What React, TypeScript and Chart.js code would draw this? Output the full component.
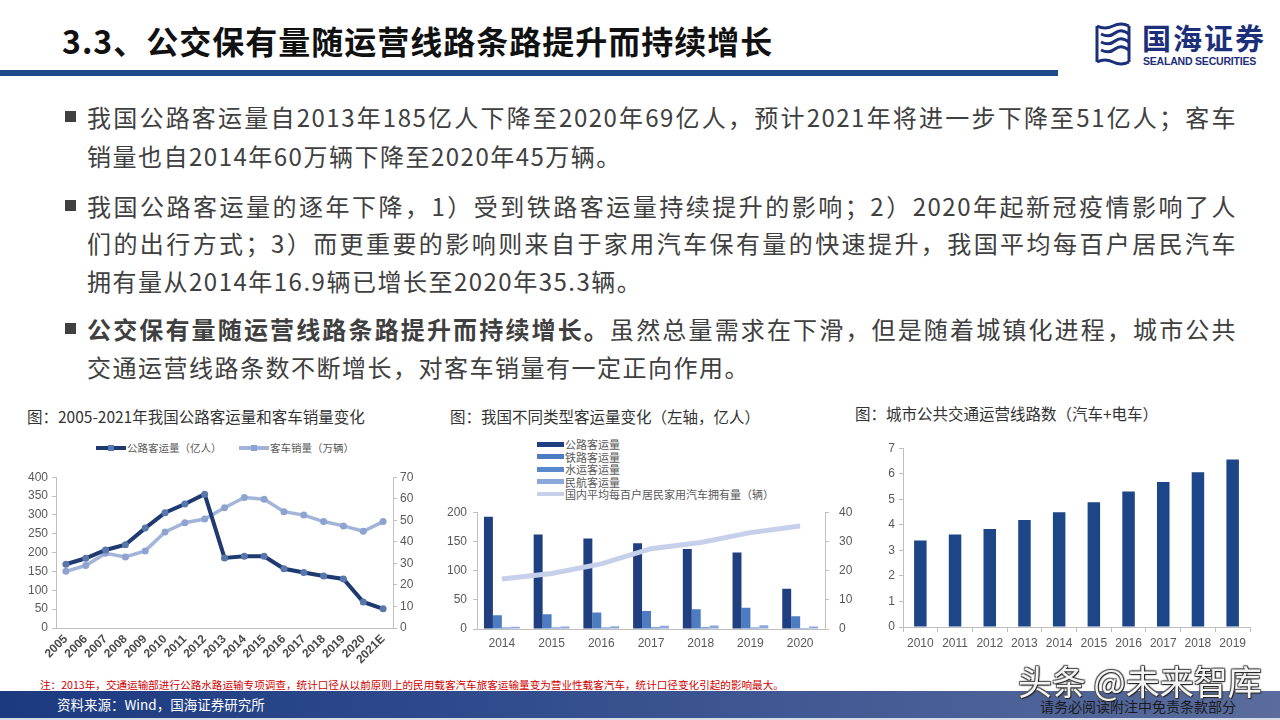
import React, { useEffect, useRef } from 'react';
import { Chart, registerables } from 'chart.js';

Chart.register(...registerables);

const years1 = ['2005', '2006', '2007', '2008', '2009', '2010', '2011', '2012', '2013', '2014', '2015', '2016', '2017', '2018', '2019', '2020', '2021E'];
const roadPassengers1 = [169, 185, 207, 221, 265, 306, 329, 355, 186, 190, 190, 157, 147, 138, 130, 69, 51];
const busSales1 = [26.3, 29, 34.7, 33, 35.8, 44.6, 48.9, 50.6, 55.8, 60.6, 59.8, 54, 52.4, 49.4, 47.4, 44.9, 49.4];
const leftTicks1 = { min: 0, max: 400, step: 50 };
const rightTicks1 = { min: 0, max: 70, step: 10 };

const years2 = ['2014', '2015', '2016', '2017', '2018', '2019', '2020'];
const road2 = [192, 162, 155, 147, 137, 131, 69];
const rail2 = [23.6, 25.3, 28.1, 30.8, 33.8, 36.6, 22.0];
const water2 = [2.6, 2.7, 2.7, 2.8, 2.8, 2.7, 1.5];
const air2 = [3.9, 4.4, 4.9, 5.5, 6.1, 6.6, 4.2];
const carsPerHundred2 = [17.1, 19.0, 22.3, 27.5, 29.6, 33.0, 35.3];
const leftTicks2 = { min: 0, max: 200, step: 50 };
const rightTicks2 = { min: 0, max: 40, step: 10 };

const years3 = ['2010', '2011', '2012', '2013', '2014', '2015', '2016', '2017', '2018', '2019'];
const busLines3 = [3.39, 3.62, 3.84, 4.19, 4.49, 4.88, 5.3, 5.68, 6.06, 6.56];
const ticks3 = { min: 0, max: 7, step: 1 };

const CJK = '"Noto Sans CJK SC", "Noto Sans", sans-serif';
const NUM = '"Liberation Sans", Arial, "Noto Sans CJK SC", sans-serif';
const AXIS = '#BFBFBF';
const TICK = '#595959';

function useChart(make: (ctx: CanvasRenderingContext2D) => Chart) {
  const ref = useRef<HTMLCanvasElement | null>(null);
  useEffect(() => {
    const ctx = ref.current!.getContext('2d')!;
    const c = make(ctx);
    return () => c.destroy();
  }, []);
  return ref;
}

function Chart1() {
  const ref = useChart((ctx) =>
    new Chart(ctx, {
      type: 'line',
      data: {
        labels: years1,
        datasets: [
          {
            label: '公路客运量（亿人）',
            data: roadPassengers1,
            yAxisID: 'y',
            borderColor: '#1F3A70',
            borderWidth: 4,
            pointRadius: 3.5,
            pointBackgroundColor: '#5877AB',
            pointBorderColor: '#5877AB',
            pointBorderWidth: 0,
            tension: 0,
          },
          {
            label: '客车销量（万辆）',
            data: busSales1,
            yAxisID: 'y1',
            borderColor: '#A3B4DB',
            borderWidth: 3.5,
            pointRadius: 3.5,
            pointBackgroundColor: '#8EA3D0',
            pointBorderColor: '#8EA3D0',
            pointBorderWidth: 0,
            tension: 0,
          },
        ],
      },
      options: {
        animation: false,
        responsive: false,
        layout: { padding: { top: 6, left: 0, right: 0, bottom: 0 } },
        plugins: { legend: { display: false }, tooltip: { enabled: false } },
        scales: {
          x: {
            offset: true,
            grid: { display: true, drawOnChartArea: false, drawTicks: false, color: AXIS },
            border: { color: AXIS },
            ticks: {
              minRotation: 45,
              maxRotation: 45,
              autoSkip: false,
              padding: 4,
              color: '#4A4A4A',
              font: { family: NUM, size: 12, weight: 'bold' },
            },
            afterFit: (s: any) => { s.height = 48; },
          },
          y: {
            position: 'left',
            min: leftTicks1.min,
            max: leftTicks1.max,
            ticks: { stepSize: leftTicks1.step, color: TICK, padding: 4, font: { family: NUM, size: 12 } },
            grid: { drawOnChartArea: false, tickLength: 4, color: AXIS },
            border: { color: AXIS },
            afterFit: (s: any) => { s.width = 46; },
          },
          y1: {
            position: 'right',
            min: rightTicks1.min,
            max: rightTicks1.max,
            ticks: { stepSize: rightTicks1.step, color: TICK, padding: 3, font: { family: NUM, size: 12 } },
            grid: { drawOnChartArea: false, tickLength: 4, color: AXIS },
            border: { color: AXIS },
            afterFit: (s: any) => { s.width = 37; },
          },
        },
      },
    } as any)
  );
  return <canvas ref={ref} width={420} height={210} style={{ position: 'absolute', left: 10, top: 466 }} />;
}

function Chart2() {
  const ref = useChart((ctx) =>
    new Chart(ctx, {
      type: 'bar',
      data: {
        labels: years2,
        datasets: [
          {
            type: 'line',
            label: '国内平均每百户居民家用汽车拥有量（辆）',
            data: carsPerHundred2,
            yAxisID: 'y1',
            borderColor: '#C6D0EB',
            borderWidth: 5,
            pointRadius: 0,
            tension: 0,
            order: 0,
          },
          { label: '公路客运量', data: road2, backgroundColor: '#1F3F80', yAxisID: 'y', order: 1 },
          { label: '铁路客运量', data: rail2, backgroundColor: '#4D7CC2', yAxisID: 'y', order: 1 },
          { label: '水运客运量', data: water2, backgroundColor: '#5A88CC', yAxisID: 'y', order: 1 },
          { label: '民航客运量', data: air2, backgroundColor: '#8DA8DA', yAxisID: 'y', order: 1 },
        ],
      },
      options: {
        animation: false,
        responsive: false,
        datasets: { bar: { barPercentage: 1, categoryPercentage: 0.72 } },
        layout: { padding: { top: 6, left: 0, right: 0, bottom: 0 } },
        plugins: { legend: { display: false }, tooltip: { enabled: false } },
        scales: {
          x: {
            grid: { display: true, drawOnChartArea: false, drawTicks: false, color: AXIS },
            border: { color: AXIS },
            ticks: { padding: 7, color: TICK, font: { family: NUM, size: 12 } },
            afterFit: (s: any) => { s.height = 26; },
          },
          y: {
            position: 'left',
            min: leftTicks2.min,
            max: leftTicks2.max,
            ticks: { stepSize: leftTicks2.step, color: TICK, padding: 6, font: { family: NUM, size: 12 } },
            grid: { drawOnChartArea: false, tickLength: 4, color: AXIS },
            border: { color: AXIS },
            afterFit: (s: any) => { s.width = 47; },
          },
          y1: {
            position: 'right',
            min: rightTicks2.min,
            max: rightTicks2.max,
            ticks: { stepSize: rightTicks2.step, color: TICK, padding: 10, font: { family: NUM, size: 12 } },
            grid: { drawOnChartArea: false, tickLength: 4, color: AXIS },
            border: { color: AXIS },
            afterFit: (s: any) => { s.width = 35; },
          },
        },
      },
    } as any)
  );
  return <canvas ref={ref} width={430} height={160} style={{ position: 'absolute', left: 430, top: 495 }} />;
}

function Chart3() {
  const ref = useChart((ctx) =>
    new Chart(ctx, {
      type: 'bar',
      data: {
        labels: years3,
        datasets: [
          { label: '城市公共交通运营线路数', data: busLines3, backgroundColor: '#1D4689', barPercentage: 0.5, categoryPercentage: 0.72 },
        ],
      },
      options: {
        animation: false,
        responsive: false,
        layout: { padding: { top: 6, left: 0, right: 10, bottom: 0 } },
        plugins: { legend: { display: false }, tooltip: { enabled: false } },
        scales: {
          x: {
            grid: { display: true, drawOnChartArea: false, drawTicks: true, tickLength: 5, offset: true, color: AXIS },
            border: { color: AXIS },
            ticks: { padding: 4, color: TICK, font: { family: NUM, size: 12 } },
            afterFit: (s: any) => { s.height = 30; },
          },
          y: {
            min: ticks3.min,
            max: ticks3.max,
            ticks: { stepSize: ticks3.step, color: TICK, padding: 4, font: { family: NUM, size: 12 } },
            grid: { drawOnChartArea: false, tickLength: 4, color: AXIS },
            border: { color: AXIS },
            afterFit: (s: any) => { s.width = 43; },
          },
        },
      },
    } as any)
  );
  return <canvas ref={ref} width={400} height={220} style={{ position: 'absolute', left: 860, top: 437 }} />;
}

const abs = (left: number, top: number, extra: React.CSSProperties = {}): React.CSSProperties => ({
  position: 'absolute',
  left,
  top,
  ...extra,
});

function BodyLine({ y, text, justify, bold }: { y: number; text: React.ReactNode; justify?: boolean; bold?: boolean }) {
  return (
    <div
      style={abs(87, y - 18, {
        width: 1150,
        height: 36,
        lineHeight: '36px',
        fontFamily: CJK,
        fontSize: 24,
        letterSpacing: 1.5,
        color: '#404040',
        textAlign: justify ? 'justify' : 'left',
        textAlignLast: justify ? 'justify' : 'left',
        whiteSpace: 'nowrap',
        fontWeight: bold ? 700 : 400,
      } as any)}
    >
      {text}
    </div>
  );
}

function Bullet({ y }: { y: number }) {
  return <div style={abs(65, y - 6, { width: 11, height: 11, background: '#404040' })} />;
}

function Logo() {
  return (
    <div style={abs(1090, 20, { width: 180, height: 50 })}>
      <svg width={40} height={44} style={{ position: 'absolute', left: 3, top: 2 }} viewBox="0 0 40 44">
        <g fill="none" stroke="#1C2F7A" strokeWidth={3}>
          <path d="M4 4 L4 40" />
          <path d="M4 4 Q12 8 20 4 T36 4" />
          <path d="M8 12 Q16 16 22 11 T36 12" />
          <path d="M8 20 Q16 24 22 19 T36 20" />
          <path d="M8 28 Q16 32 22 27 T36 28" />
          <path d="M4 40 Q12 36 20 40 T36 40" />
          <path d="M36 4 L36 40" />
        </g>
      </svg>
      <div style={abs(52, 0, { fontFamily: CJK, fontWeight: 700, fontSize: 29, color: '#1C2F7A', letterSpacing: 2, lineHeight: '34px' })}>国海证券</div>
      <div style={abs(53, 35, { fontFamily: NUM, fontWeight: 700, fontSize: 10.5, color: '#1C2F7A', lineHeight: '12px', letterSpacing: -0.2 })}>SEALAND SECURITIES</div>
    </div>
  );
}

function LegendLine({ color, marker }: { color: string; marker: string }) {
  return (
    <span style={{ position: 'relative', display: 'inline-block', width: 30, height: 4, background: color, verticalAlign: 'middle', marginRight: 1 }}>
      <span style={{ position: 'absolute', left: 12, top: -1, width: 6, height: 6, background: marker }} />
    </span>
  );
}

const legend2 = [
  { label: '公路客运量', color: '#1F3F80', h: 5 },
  { label: '铁路客运量', color: '#4D7CC2', h: 5 },
  { label: '水运客运量', color: '#5A88CC', h: 5 },
  { label: '民航客运量', color: '#8DA8DA', h: 5 },
  { label: '国内平均每百户居民家用汽车拥有量（辆）', color: '#C6D0EB', h: 4 },
];

export default function App() {
  const chartTitle: React.CSSProperties = { fontFamily: CJK, fontSize: 15.5, color: '#333333', whiteSpace: 'nowrap', lineHeight: '20px' };
  return (
    <div style={{ position: 'absolute', left: 0, top: 0, width: 1280, height: 720, background: '#ffffff', overflow: 'hidden' }}>
      {/* header */}
      <div style={abs(62, 20, { fontFamily: CJK, fontWeight: 700, fontSize: 32, letterSpacing: 1, color: '#111111', lineHeight: '40px', whiteSpace: 'nowrap' })}>
        3.3、公交保有量随运营线路条路提升而持续增长
      </div>
      <div style={abs(0, 70, { width: 1058, height: 6, background: '#1E4A8C' })} />
      <Logo />

      {/* body text */}
      <Bullet y={117} />
      <BodyLine y={117} justify text="我国公路客运量自2013年185亿人下降至2020年69亿人，预计2021年将进一步下降至51亿人；客车" />
      <BodyLine y={156} text="销量也自2014年60万辆下降至2020年45万辆。" />
      <Bullet y={206} />
      <BodyLine y={206} justify text="我国公路客运量的逐年下降，1）受到铁路客运量持续提升的影响；2）2020年起新冠疫情影响了人" />
      <BodyLine y={243} justify text="们的出行方式；3）而更重要的影响则来自于家用汽车保有量的快速提升，我国平均每百户居民汽车" />
      <BodyLine y={281} text="拥有量从2014年16.9辆已增长至2020年35.3辆。" />
      <Bullet y={329} />
      <BodyLine
        y={329}
        justify
        text={
          <>
            <b>公交保有量随运营线路条路提升而持续增长。</b>虽然总量需求在下滑，但是随着城镇化进程，城市公共
          </>
        }
      />
      <BodyLine y={367} text="交通运营线路条数不断增长，对客车销量有一定正向作用。" />

      {/* chart titles */}
      <div style={abs(27, 406, chartTitle)}>图：2005-2021年我国公路客运量和客车销量变化</div>
      <div style={abs(450, 406, chartTitle)}>图：我国不同类型客运量变化（左轴，亿人）</div>
      <div style={abs(855, 403, chartTitle)}>图：城市公共交通运营线路数（汽车+电车）</div>

      {/* chart 1 legend */}
      <div style={abs(96, 440, { fontFamily: CJK, fontSize: 10.5, color: TICK, whiteSpace: 'nowrap', lineHeight: '14px' })}>
        <LegendLine color="#1F3A70" marker="#5877AB" />
        <span style={{ verticalAlign: 'middle' }}>公路客运量（亿人）</span>
      </div>
      <div style={abs(239, 440, { fontFamily: CJK, fontSize: 10.5, color: TICK, whiteSpace: 'nowrap', lineHeight: '14px' })}>
        <LegendLine color="#A3B4DB" marker="#8EA3D0" />
        <span style={{ verticalAlign: 'middle' }}>客车销量（万辆）</span>
      </div>

      {/* chart 2 legend */}
      {legend2.map((l, i) => (
        <div key={l.label} style={abs(537, 436 + i * 12.5, { height: 13, whiteSpace: 'nowrap', fontFamily: CJK, fontSize: 11, color: TICK, lineHeight: '13px' })}>
          <span style={{ display: 'inline-block', width: 27, height: l.h, background: l.color, verticalAlign: 'middle', marginRight: 1 }} />
          <span style={{ verticalAlign: 'middle' }}>{l.label}</span>
        </div>
      ))}

      <Chart1 />
      <Chart2 />
      <Chart3 />

      {/* note */}
      <div style={abs(40, 677, { fontFamily: CJK, fontSize: 10.6, color: '#D00000', whiteSpace: 'nowrap', lineHeight: '16px' })}>
        注：2013年，交通运输部进行公路水路运输专项调查，统计口径从以前原则上的民用载客汽车旅客运输量变为营业性载客汽车，统计口径变化引起的影响最大。
      </div>

      {/* footer */}
      <div style={abs(0, 691, { width: 1280, height: 27, background: 'linear-gradient(to right, #1C3A80 0%, #2E4A8C 35%, #5A6C9D 100%)' })} />
      <div style={abs(0, 718, { width: 1280, height: 2, background: '#D8DCE6' })} />
      <div style={abs(57, 694, { fontFamily: CJK, fontSize: 13.5, color: '#FFFFFF', whiteSpace: 'nowrap', lineHeight: '20px' })}>
        资料来源：Wind，国海证券研究所
      </div>
      <div style={abs(1040, 697, { fontFamily: CJK, fontSize: 14, color: '#1A1A1A', whiteSpace: 'nowrap', lineHeight: '18px' })}>
        请务必阅读附注中免责条款部分
      </div>
      <div
        style={abs(1018, 660, {
          fontFamily: CJK,
          fontSize: 34,
          color: '#F4F4F4',
          whiteSpace: 'nowrap',
          lineHeight: '42px',
          textShadow: '1px 1px 1px #222, -1px -1px 1px #555, 1px -1px 1px #555, -1px 1px 1px #555',
        })}
      >
        头条 @未来智库
      </div>
    </div>
  );
}
